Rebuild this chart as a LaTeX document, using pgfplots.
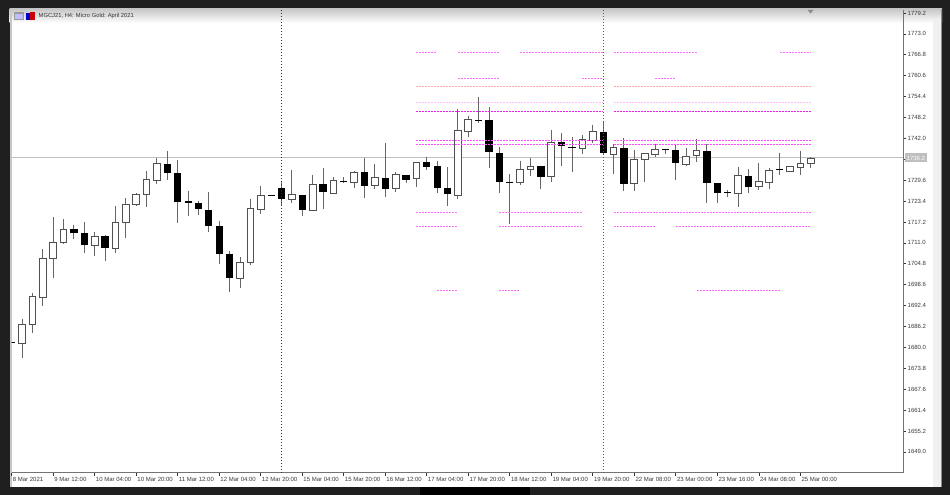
\documentclass[border=0pt]{standalone}
\usepackage{fontspec}
\setmainfont{Liberation Sans}
\usepackage{pgfplots}
\usepackage{pgfplotstable}
\pgfplotsset{compat=1.18}
\definecolor{bgdark}{HTML}{1F1F1F}
\definecolor{txt}{HTML}{3A3A3A}
\definecolor{wick}{HTML}{666666}
\definecolor{edge}{HTML}{505050}
\definecolor{lvlA}{HTML}{FF70FF}
\definecolor{lvlB}{HTML}{FFA8A8}
\definecolor{lvlC}{HTML}{FFBCFF}
\definecolor{lvlD}{HTML}{E820E8}
\definecolor{lvlE}{HTML}{FF50FF}
% bullish candles
\pgfplotstableread{
i open high low close
1 1681.1 1688.5 1676.8 1686.9
2 1686.9 1696.1 1684.2 1695.0
3 1694.8 1709.1 1692.3 1706.5
4 1706.5 1718.8 1700.5 1711.2
5 1711.1 1718.0 1710.7 1715.1
8 1710.2 1714.2 1707.1 1712.9
10 1709.4 1722.0 1708.1 1717.0
11 1717.0 1724.2 1712.4 1722.3
12 1722.3 1725.7 1721.8 1725.4
13 1725.4 1732.3 1721.6 1729.9
14 1729.5 1736.1 1728.5 1734.6
22 1700.5 1706.9 1697.6 1705.3
23 1705.3 1724.0 1704.5 1721.3
24 1720.9 1727.9 1719.6 1725.1
27 1724.0 1732.6 1722.9 1725.4
29 1720.7 1731.2 1720.7 1728.4
31 1725.6 1730.6 1725.4 1729.4
33 1729.0 1732.3 1727.4 1732.0
35 1728.1 1734.3 1726.9 1730.4
37 1727.0 1732.0 1726.2 1731.2
39 1730.1 1734.8 1727.5 1734.8
43 1725.2 1750.6 1724.0 1744.3
44 1744.1 1748.7 1742.5 1747.5
49 1728.9 1735.4 1728.2 1732.9
50 1732.9 1736.1 1730.9 1733.6
52 1730.6 1744.5 1729.0 1740.7
55 1739.1 1743.0 1737.3 1741.7
56 1741.5 1746.1 1740.7 1744.0
58 1737.3 1740.4 1731.5 1739.3
60 1728.5 1738.6 1726.5 1735.8
61 1735.6 1737.6 1729.0 1737.4
62 1737.1 1740.4 1736.4 1738.8
65 1734.3 1739.1 1733.8 1736.6
66 1736.9 1741.8 1735.1 1738.3
70 1725.8 1733.6 1721.5 1730.9
72 1727.6 1734.7 1726.7 1729.2
73 1728.9 1733.3 1727.1 1732.6
75 1732.3 1733.8 1732.3 1733.6
76 1733.4 1738.4 1731.0 1734.5
77 1734.6 1736.6 1733.1 1736.1
}\upcandles
% bearish candles and dojis
\pgfplotstableread{
i open high low close
0 1681.5 1681.5 1681.3 1681.3
6 1715.2 1716.4 1712.1 1714.0
7 1713.9 1717.3 1707.9 1710.4
9 1712.9 1713.2 1705.7 1709.4
15 1734.4 1738.2 1729.7 1731.7
16 1731.7 1735.6 1716.8 1723.2
17 1723.4 1726.5 1719.0 1722.9
18 1722.8 1723.5 1719.4 1721.2
19 1720.8 1726.0 1714.3 1716.1
20 1716.0 1717.6 1704.8 1707.8
21 1707.8 1708.7 1696.5 1700.6
25 1725.2 1725.3 1724.9 1725.0
26 1727.3 1729.4 1722.0 1724.0
28 1725.3 1725.3 1719.1 1720.7
30 1728.5 1733.3 1721.1 1726.0
32 1729.5 1730.4 1728.7 1729.2
34 1732.1 1736.1 1724.4 1728.0
36 1730.2 1740.6 1724.5 1727.1
38 1731.2 1731.2 1728.9 1729.7
40 1734.9 1736.6 1732.6 1733.6
41 1733.8 1735.4 1725.7 1727.3
42 1727.3 1733.4 1722.0 1725.6
45 1747.6 1754.4 1746.5 1747.2
46 1747.5 1751.4 1733.2 1737.9
47 1737.7 1739.4 1725.7 1729.1
48 1729.2 1731.4 1716.6 1728.8
51 1733.9 1733.9 1726.9 1730.6
53 1740.9 1743.5 1733.9 1739.6
54 1739.4 1742.3 1732.0 1739.1
57 1744.0 1747.2 1737.3 1737.6
59 1739.1 1742.0 1726.3 1728.5
63 1738.9 1738.9 1737.4 1738.6
64 1738.6 1740.4 1729.7 1734.6
67 1738.4 1740.3 1722.8 1728.7
68 1728.7 1728.7 1722.9 1725.8
69 1726.0 1726.7 1724.7 1725.7
71 1730.7 1732.9 1725.9 1727.5
74 1732.8 1737.8 1731.2 1732.5
}\downcandles
\begin{document}
\begin{tikzpicture}[x=1pt,y=1pt]
\path[use as bounding box] (0,0) rectangle (950,495);
\fill[bgdark] (0,0) rectangle (950,495);
\fill[black] (420,0) rectangle (530,8);
\fill[white] (9.5,8) rectangle (942,486);
\shade[top color=black!22,bottom color=white] (9.5,486) rectangle (942,472);
\fill[black!6] (933,8) rectangle (940.5,475);
\fill[black!45] (940.5,8) rectangle (942,486);
\fill[black!22] (9.5,8) rectangle (11.5,486);
\begin{axis}[
  at={(11.7pt,22pt)},anchor=south west,
  scale only axis,width=891.3pt,height=463pt,
  xmin=0,xmax=85.89,ymin=1642.74,ymax=1780.09,
  axis x line*=bottom,axis y line*=right,
  axis line style={draw=black!55,line width=1pt},
  tick align=outside,major tick length=3pt,
  tick style={draw=black!80,line width=.7pt},
  xtick={0,4,...,76},
  xticklabels={8 Mar 2021,9 Mar 12:00,10 Mar 04:00,10 Mar 20:00,11 Mar 12:00,12 Mar 04:00,12 Mar 20:00,15 Mar 04:00,15 Mar 20:00,16 Mar 12:00,17 Mar 04:00,17 Mar 20:00,18 Mar 12:00,19 Mar 04:00,19 Mar 20:00,22 Mar 08:00,23 Mar 00:00,23 Mar 16:00,24 Mar 08:00,25 Mar 00:00},
  xticklabel style={anchor=north west,font=\fontsize{6}{7}\selectfont,text=txt,inner xsep=1pt,inner ysep=1pt},
  ytick={1649.0,1655.2,1661.4,1667.6,1673.8,1680.0,1686.2,1692.4,1698.6,1704.8,1711.0,1717.2,1723.4,1729.6,1735.8,1742.0,1748.2,1754.4,1760.6,1766.8,1773.0,1779.2},
  yticklabel style={font=\fontsize{6}{7}\selectfont,text=txt,inner xsep=1.5pt,
    /pgf/number format/fixed,/pgf/number format/fixed zerofill,/pgf/number format/precision=1,/pgf/number format/1000 sep={},/pgf/number format/assume math mode=true},
  unbounded coords=jump,
  every axis plot/.append style={forget plot},
  lvl/.style={line width=1pt,dash pattern=on 2pt off 1pt},
]
% current-price line
\addplot[black!25,line width=1pt] coordinates {(0,1736.2)(85.89,1736.2)};
% wicks
\addplot[draw=none,no markers,error bars/.cd,y dir=minus,y explicit,error mark=none,
  error bar style={wick,line width=1pt,solid}]
  table[x=i,y=high,y error minus expr=\thisrow{high}-\thisrow{low}] {\upcandles};
\addplot[draw=none,no markers,error bars/.cd,y dir=minus,y explicit,error mark=none,
  error bar style={wick,line width=1pt,solid}]
  table[x=i,y=high,y error minus expr=\thisrow{high}-\thisrow{low}] {\downcandles};
% bearish bodies
\addplot[draw=none,no markers,error bars/.cd,y dir=minus,y explicit,error mark=none,
  error bar style={black,line width=7.2pt,solid}]
  table[x=i,y=open,y error minus expr=\thisrow{open}-\thisrow{close}] {\downcandles};
% bullish bodies, one closed outline each
\pgfplotsforeachungrouped \r in {0,...,39}{%
  \pgfplotstablegetelem{\r}{i}\of\upcandles\let\ci\pgfplotsretval
  \pgfplotstablegetelem{\r}{open}\of\upcandles\let\co\pgfplotsretval
  \pgfplotstablegetelem{\r}{close}\of\upcandles\let\cc\pgfplotsretval
  \pgfmathsetmacro\xl{\ci-0.325}\pgfmathsetmacro\xr{\ci+0.325}%
  \edef\temp{\noexpand\addplot[fill=white,draw=edge,line width=1pt]
    coordinates {(\xl,\co)(\xr,\co)(\xr,\cc)(\xl,\cc)} --cycle;}\temp
}
% period separators
\addplot[black!80,line width=.8pt,dash pattern=on 1pt off 2pt] coordinates {(26,1642.74)(26,1780.09)};
\addplot[black!65,line width=.8pt,dash pattern=on 1pt off 2pt] coordinates {(57,1642.74)(57,1780.09)};
% levels
\addplot[lvlA,lvl] coordinates {(39,1767.49)(41,1767.49)(42,nan)(43,1767.49)(47,1767.49)(48,nan)(49,1767.49)(57,1767.49)(57.5,nan)(58,1767.49)(66,1767.49)(70,nan)(74,1767.49)(77,1767.49)};
\addplot[lvlA,lvl] coordinates {(43,1759.77)(47,1759.77)(50,nan)(55,1759.77)(57,1759.77)(60,nan)(62,1759.77)(64,1759.77)};
\addplot[lvlB,lvl] coordinates {(39,1757.40)(57,1757.40)(57.5,nan)(58,1757.40)(77,1757.40)};
\addplot[lvlC,lvl] coordinates {(39,1752.66)(57,1752.66)(57.5,nan)(58,1752.66)(77,1752.66)};
\addplot[lvlD,lvl] coordinates {(39,1749.99)(57,1749.99)(57.5,nan)(58,1749.99)(77,1749.99)};
\addplot[lvlE,lvl] coordinates {(39,1741.38)(57,1741.38)(57.5,nan)(58,1741.38)(77,1741.38)};
\addplot[lvlE,lvl] coordinates {(39,1740.19)(57,1740.19)(57.5,nan)(58,1740.19)(77,1740.19)};
\addplot[lvlA,lvl] coordinates {(39,1720.03)(43,1720.03)(45,nan)(47,1720.03)(55,1720.03)(56,nan)(58,1720.03)(77,1720.03)};
\addplot[lvlA,lvl] coordinates {(39,1715.88)(43,1715.88)(45,nan)(47,1715.88)(55,1715.88)(56,nan)(58,1715.88)(62,1715.88)(63,nan)(64,1715.88)(77,1715.88)};
\addplot[lvlA,lvl] coordinates {(41,1696.90)(43,1696.90)(45,nan)(47,1696.90)(49,1696.90)(55,nan)(66,1696.90)(74,1696.90)};
\end{axis}
% current price tag
\node[fill=black!25,text=white,font=\fontsize{6}{7}\selectfont,inner xsep=1.5pt,inner ysep=1pt,anchor=west,minimum height=9pt] at (905,337) {1736.2};
% window header
\fill[black!45] (807.5,485) -- (813.5,485) -- (810.5,481.5) -- cycle;
\node[anchor=west,font=\fontsize{5.8}{7}\selectfont,text=black!80,inner sep=0pt] at (38.5,479) {MGCJ21, H4:  Micro Gold: April 2021};
\fill[black!40] (14,475) rectangle (23.5,483);
\fill[blue!25] (15,476) rectangle (22.5,480.5);
\fill[blue!80!black] (25.5,475) rectangle (29.5,482);
\fill[red!80!black] (29.5,475) rectangle (35,483);
\end{tikzpicture}
\end{document}
